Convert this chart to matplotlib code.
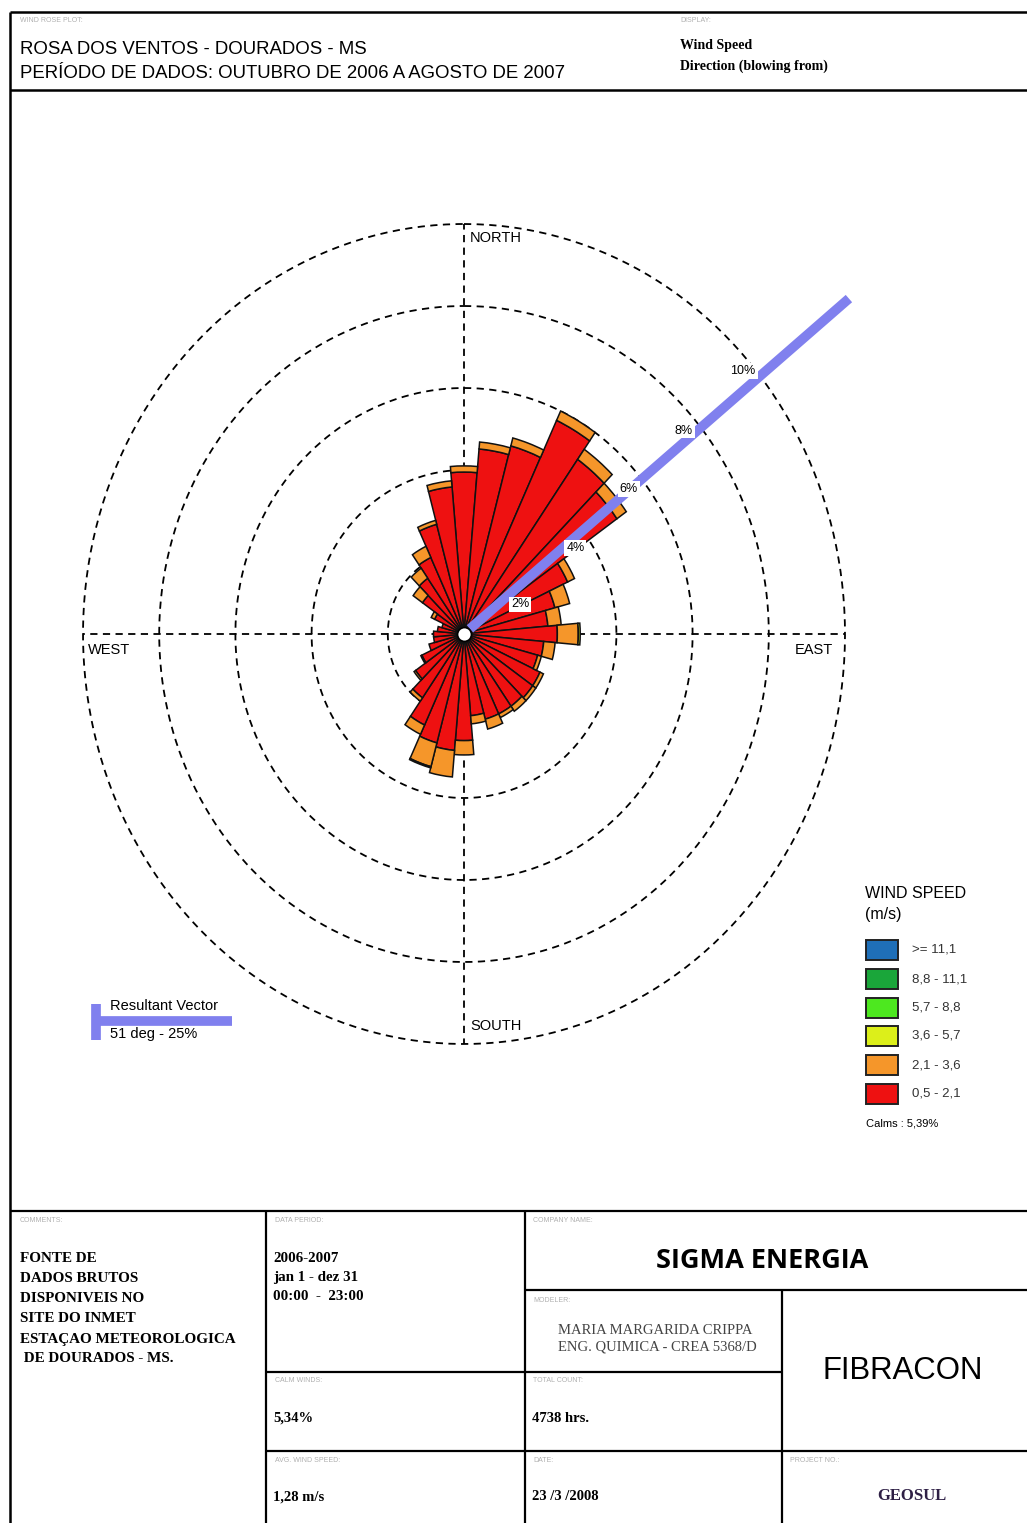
import numpy as np
import matplotlib
matplotlib.use('Agg')
import matplotlib.pyplot as plt
from matplotlib.lines import Line2D
from matplotlib.patches import Rectangle

# ---------------- data ----------------
directions_deg = np.arange(0, 360, 10)
# frequency (%) per speed class, per direction (blowing from)
spd_05_21 = [3.95, 4.53, 4.75, 5.75, 5.20, 4.90, 3.00, 2.47, 2.21, 2.45,
             2.10, 2.00, 2.20, 2.20, 2.15, 2.15, 2.15, 2.00, 2.60, 2.85,
             2.75, 2.45, 1.90, 1.55, 1.22, 0.95, 0.80, 0.80, 0.70, 0.60,
             0.85, 1.33, 1.66, 2.06, 2.77, 3.60]
spd_21_36 = [0.15, 0.17, 0.20, 0.25, 0.30, 0.30, 0.20, 0.40, 0.35, 0.55,
             0.30, 0.10, 0.10, 0.10, 0.15, 0.10, 0.25, 0.20, 0.35, 0.65,
             0.60, 0.25, 0.10, 0.05, 0.03, 0.00, 0.00, 0.00, 0.00, 0.00,
             0.10, 0.30, 0.30, 0.30, 0.10, 0.15]
spd_36_57 = [0.0] * 9 + [0.05] + [0.0] * 10 + [0.03] + [0.0] * 15
spd_57_88 = [0.0] * 36
spd_88_111 = [0.0] * 36
spd_111 = [0.0] * 36

class_labels = [">= 11,1", "8,8 - 11,1", "5,7 - 8,8", "3,6 - 5,7", "2,1 - 3,6", "0,5 - 2,1"]
class_colors = ["#1f6fb8", "#1aa63a", "#4de81f", "#dcef1a", "#f5962a", "#ee1111"]

ring_values = [2, 4, 6, 8, 10]
ring_labels = ["2%", "4%", "6%", "8%", "10%"]
resultant_dir = 51
resultant_len = 13.0
calms_pct = "5,39%"

W, H = 1027, 1523
fig = plt.figure(figsize=(W / 100, H / 100), dpi=100)
fig.patch.set_facecolor('white')

def fx(x):
    return x / W

def fy(y):
    return 1 - y / H

def hline(y, x0, x1, lw=1.6, color='black'):
    fig.add_artist(Line2D([fx(x0), fx(x1)], [fy(y), fy(y)], transform=fig.transFigure,
                          color=color, lw=lw, solid_capstyle='butt'))

def vline(x, y0, y1, lw=1.6, color='black'):
    fig.add_artist(Line2D([fx(x), fx(x)], [fy(y0), fy(y1)], transform=fig.transFigure,
                          color=color, lw=lw, solid_capstyle='butt'))

def txt(x, y, s, **kw):
    fig.text(fx(x), fy(y), s, **kw)

# ---------------- frame ----------------
hline(12, 10, W, lw=1.8)
vline(10, 12, H, lw=1.8)
hline(90, 10, W, lw=1.8)
hline(1211, 10, W)
vline(266, 1211, H)
vline(525, 1211, H)
hline(1290, 525, W)
hline(1372, 266, 782)
hline(1451, 266, W)
vline(782, 1290, H)

gray = '#b0b0b0'
sans = 'Liberation Sans'
serif = 'Liberation Serif'

# header
txt(20, 21, "WIND ROSE PLOT:", fontsize=5, color=gray, family=sans, va='center')
txt(20, 50, "ROSA DOS VENTOS - DOURADOS - MS", fontsize=13.4, family=sans, va='center')
txt(20, 73, "PERÍODO DE DADOS: OUTUBRO DE 2006 A AGOSTO DE 2007", fontsize=13.4,
    family=sans, va='center')
txt(680, 21, "DISPLAY:", fontsize=5, color=gray, family=sans, va='center')
txt(680, 45, "Wind Speed", fontsize=10, family=serif, weight='bold', va='center')
txt(680, 66, "Direction (blowing from)", fontsize=10, family=serif, weight='bold', va='center')

# ---------------- wind rose ----------------
cx, cy = 464, 634
rx, ry = 381, 410
ax = fig.add_axes([fx(cx - rx), fy(cy + ry), 2 * rx / W, 2 * ry / H], projection='polar')
ax.set_aspect('auto')
ax.set_theta_zero_location('N')
ax.set_theta_direction(-1)
ax.set_ylim(0, 10)
ax.set_facecolor('none')
ax.spines['polar'].set_visible(False)
ax.set_xticks([])
ax.set_yticks([])
ax.grid(False)

theta = np.deg2rad(directions_deg)
width = np.deg2rad(10)
series = [spd_05_21, spd_21_36, spd_36_57, spd_57_88, spd_88_111, spd_111]
colors_bottom_up = class_colors[::-1]
bottom = np.zeros(len(theta))
for vals, col in zip(series, colors_bottom_up):
    v = np.asarray(vals)
    mask = v > 0
    ax.bar(theta[mask], v[mask], width=width, bottom=bottom[mask], color=col,
           edgecolor='#111111', linewidth=1.1, zorder=3)
    bottom = bottom + v

# dashed rings and axes
circ = np.linspace(0, 2 * np.pi, 400)
for r in ring_values:
    ax.plot(circ, np.full_like(circ, r), color='black', lw=1.3,
            linestyle=(0, (4, 3)), zorder=2, clip_on=False)
for a in [0, 90, 180, 270]:
    ax.plot([np.deg2rad(a), np.deg2rad(a)], [0, 10], color='black', lw=1.3,
            linestyle=(0, (4, 3)), zorder=2, clip_on=False)

# resultant vector
tv = np.deg2rad(resultant_dir)
ax.plot([tv, tv], [0.2, resultant_len], color='#8080ee', lw=7, solid_capstyle='butt',
        zorder=4, clip_on=False)
# calm circle
ax.plot([0], [0], 'o', ms=10, mfc='white', mec='black', mew=1.2, zorder=5)

# ring labels
offsets = [(-3, -22), (-7, -17), (-13, -10), (-17, -3), (-17, 5)]
for r, lab, off in zip(ring_values, ring_labels, offsets):
    ax.annotate(lab, xy=(tv, r), xytext=off, textcoords='offset pixels',
                ha='center', va='center', fontsize=9, family=sans, zorder=6,
                bbox=dict(boxstyle='square,pad=0.15', fc='white', ec='none'),
                annotation_clip=False)

# compass labels
txt(470, 238, "NORTH", fontsize=10.5, family=sans, va='center')
txt(88, 650, "WEST", fontsize=10.5, family=sans, va='center')
txt(795, 650, "EAST", fontsize=10.5, family=sans, va='center')
txt(470, 1026, "SOUTH", fontsize=10.5, family=sans, va='center')

# ---------------- legend ----------------
txt(865, 894, "WIND SPEED", fontsize=11.5, family=sans, va='center')
txt(865, 914, "(m/s)", fontsize=11.5, family=sans, va='center')
leg_y = [950, 979, 1008, 1036, 1065, 1094]
for yy, lab, col in zip(leg_y, class_labels, class_colors):
    fig.add_artist(Rectangle((fx(866), fy(yy + 10)), 32 / W, 20 / H, transform=fig.transFigure,
                             facecolor=col, edgecolor='#222222', lw=1.4))
    txt(912, yy, lab, fontsize=9.5, family=sans, va='center', color='#333333')
txt(866, 1123, "Calms : " + calms_pct, fontsize=8, family=sans, va='center')

# resultant vector legend
vline(96, 1004, 1040, lw=7, color='#8080ee')
hline(1021, 96, 232, lw=7, color='#8080ee')
txt(110, 1006, "Resultant Vector", fontsize=10.5, family=sans, va='center')
txt(110, 1034, "%d deg - 25%%" % resultant_dir, fontsize=10.5, family=sans, va='center')

# ---------------- bottom table ----------------
txt(20, 1221, "COMMENTS:", fontsize=5, color=gray, family=sans, va='center')
comment_lines = ["FONTE DE", "DADOS BRUTOS", "DISPONIVEIS NO", "SITE DO INMET",
                 "ESTAÇAO METEOROLOGICA", " DE DOURADOS - MS."]
for i, s in enumerate(comment_lines):
    txt(20, 1259 + i * 20, s, fontsize=10.9, family=serif, weight='bold', va='center')

txt(275, 1221, "DATA PERIOD:", fontsize=5, color=gray, family=sans, va='center')
for i, s in enumerate(["2006-2007", "jan 1 - dez 31", "00:00  -  23:00"]):
    txt(273, 1258 + i * 19, s, fontsize=10.8, family=serif, weight='bold', va='center')

txt(275, 1381, "CALM WINDS:", fontsize=5, color=gray, family=sans, va='center')
txt(273, 1418, "5,34%", fontsize=10.5, family=serif, weight='bold', va='center')
txt(275, 1461, "AVG. WIND SPEED:", fontsize=5, color=gray, family=sans, va='center')
txt(273, 1497, "1,28 m/s", fontsize=10.5, family=serif, weight='bold', va='center')

txt(533, 1221, "COMPANY NAME:", fontsize=5, color=gray, family=sans, va='center')
txt(762, 1261, "SIGMA ENERGIA", fontsize=19.5, family='Open Sans', weight='bold',
    ha='center', va='center')
txt(533, 1301, "MODELER:", fontsize=5, color=gray, family=sans, va='center')
txt(558, 1331, "MARIA MARGARIDA CRIPPA", fontsize=10.5, family=serif, color='#444444', va='center')
txt(558, 1347, "ENG. QUIMICA - CREA 5368/D", fontsize=10.5, family=serif, color='#444444', va='center')
txt(533, 1381, "TOTAL COUNT:", fontsize=5, color=gray, family=sans, va='center')
txt(532, 1418, "4738 hrs.", fontsize=10.5, family=serif, weight='bold', va='center')
txt(533, 1461, "DATE:", fontsize=5, color=gray, family=sans, va='center')
txt(532, 1497, "23 /3 /2008", fontsize=10.5, family=serif, weight='bold', va='center')

txt(903, 1371, "FIBRACON", fontsize=22.4, family=sans, ha='center', va='center')
txt(790, 1461, "PROJECT NO.:", fontsize=5, color=gray, family=sans, va='center')
txt(912, 1496, "GEOSUL", fontsize=12, family=serif, weight='bold', color='#2e1f45',
    ha='center', va='center')

fig.savefig('out.png', dpi=100, facecolor='white')
